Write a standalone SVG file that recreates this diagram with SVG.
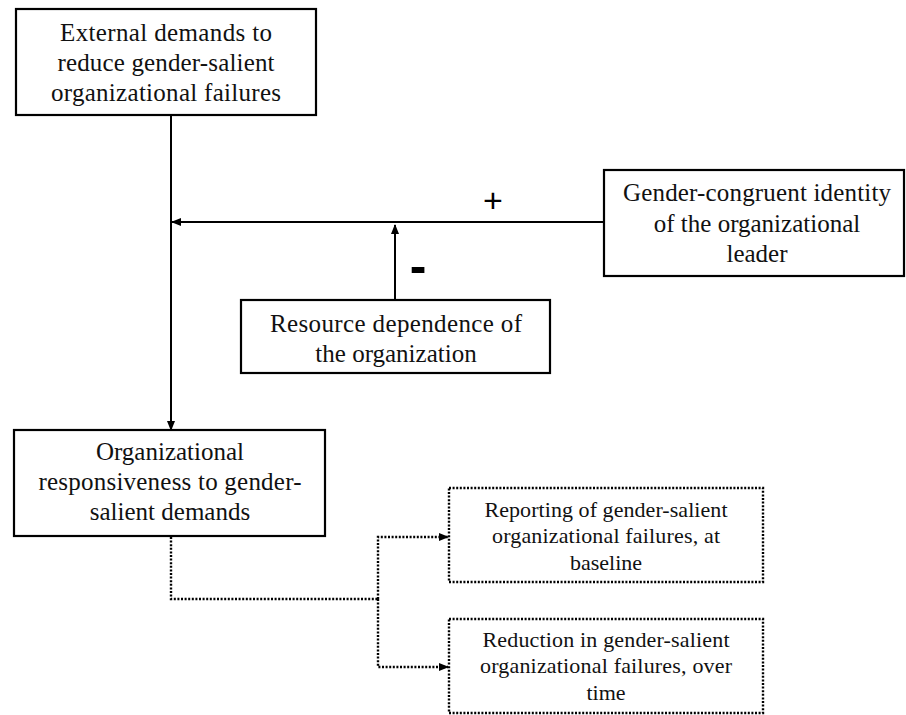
<svg xmlns="http://www.w3.org/2000/svg" width="906" height="715" viewBox="0 0 906 715">
<defs>
<style>
.box{fill:#fff;stroke:#000;stroke-width:2.2}
.dbox{fill:#fff;stroke:#000;stroke-width:2.4;stroke-dasharray:2 1.6}
.t{font-family:"Liberation Serif","Times New Roman",serif;font-size:25px;fill:#111;text-anchor:middle}
.ts{font-family:"Liberation Serif","Times New Roman",serif;font-size:22px;fill:#111;text-anchor:middle}
.ln{fill:none;stroke:#000;stroke-width:2}
.dl{fill:none;stroke:#000;stroke-width:2.4;stroke-dasharray:2 1.6}
.sg{font-family:"Liberation Sans",Arial,sans-serif;fill:#000;text-anchor:middle}
</style>
<marker id="ah" markerWidth="10" markerHeight="10" refX="9" refY="4" orient="auto" markerUnits="userSpaceOnUse">
<path d="M0,0 L10,4 L0,8 Z" fill="#000"/>
</marker>
</defs>
<rect width="906" height="715" fill="#fff"/>
<g id="connectors">
<line class="ln" x1="171" y1="115" x2="171" y2="430" marker-end="url(#ah)"/>
<line class="ln" x1="604" y1="222" x2="172" y2="222" marker-end="url(#ah)"/>
<line class="ln" x1="395" y1="300" x2="395" y2="225" marker-end="url(#ah)"/>
<path class="dl" d="M171,537 L171,599 L378,599"/>
<path class="dl" d="M378,599 L378,537 L448,537" marker-end="url(#ah)"/>
<path class="dl" d="M378,599 L378,667 L448,667" marker-end="url(#ah)"/>
<text class="sg" x="493" y="212" font-size="34">+</text>
<text class="sg" x="418" y="283" font-size="50" font-weight="bold">-</text>
</g>
<g id="external-demands">
<rect class="box" x="16" y="9" width="300" height="106"/>
<text class="t" x="166" y="41" textLength="212" lengthAdjust="spacing">External demands to</text>
<text class="t" x="166" y="71" textLength="217" lengthAdjust="spacing">reduce gender-salient</text>
<text class="t" x="166" y="101" textLength="230" lengthAdjust="spacing">organizational failures</text>
</g>
<g id="gender-congruent-identity">
<rect class="box" x="604" y="170" width="300" height="106"/>
<text class="t" x="757" y="201" textLength="268" lengthAdjust="spacing">Gender-congruent identity</text>
<text class="t" x="757" y="232">of the organizational</text>
<text class="t" x="757" y="262">leader</text>
</g>
<g id="resource-dependence">
<rect class="box" x="241" y="300" width="309" height="73"/>
<text class="t" x="396" y="332" textLength="252" lengthAdjust="spacing">Resource dependence of</text>
<text class="t" x="396" y="362">the organization</text>
</g>
<g id="organizational-responsiveness">
<rect class="box" x="14" y="430" width="311" height="106"/>
<text class="t" x="170" y="460">Organizational</text>
<text class="t" x="170" y="490" textLength="263" lengthAdjust="spacing">responsiveness to gender-</text>
<text class="t" x="170" y="520">salient demands</text>
</g>
<g id="reporting">
<rect class="dbox" x="449" y="488" width="314" height="94"/>
<text class="ts" x="606" y="517" textLength="243" lengthAdjust="spacing">Reporting of gender-salient</text>
<text class="ts" x="606" y="543" textLength="228" lengthAdjust="spacing">organizational failures, at</text>
<text class="ts" x="606" y="570">baseline</text>
</g>
<g id="reduction">
<rect class="dbox" x="449" y="619" width="314" height="94"/>
<text class="ts" x="606" y="647" textLength="247" lengthAdjust="spacing">Reduction in gender-salient</text>
<text class="ts" x="606" y="673" textLength="252" lengthAdjust="spacing">organizational failures, over</text>
<text class="ts" x="606" y="700">time</text>
</g>
</svg>
